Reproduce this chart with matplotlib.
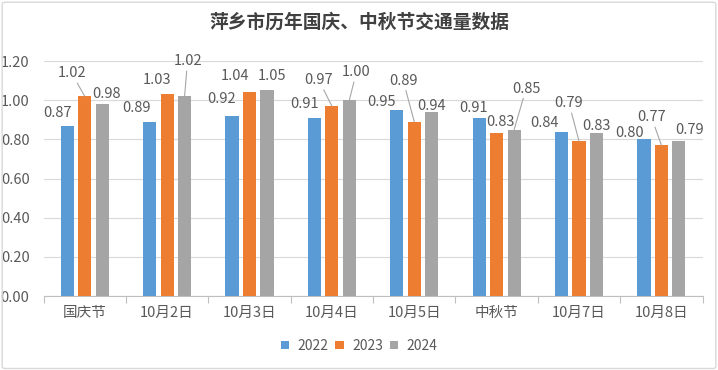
import matplotlib
matplotlib.use("Agg")
import matplotlib.pyplot as plt
import numpy as np
from matplotlib.patches import FancyBboxPatch

plt.rcParams['font.family'] = ['Noto Sans CJK SC', 'DejaVu Sans']

categories = ["国庆节", "10月2日", "10月3日", "10月4日", "10月5日", "中秋节", "10月7日", "10月8日"]
years = ["2022", "2023", "2024"]
v2022 = [0.87, 0.89, 0.92, 0.91, 0.95, 0.91, 0.84, 0.80]
v2023 = [1.02, 1.03, 1.04, 0.97, 0.89, 0.83, 0.79, 0.77]
v2024 = [0.98, 1.02, 1.05, 1.00, 0.94, 0.85, 0.83, 0.79]
yticks = [0.0, 0.2, 0.4, 0.6, 0.8, 1.0, 1.2]

colors = ["#5B9BD5", "#ED7D31", "#A5A5A5"]
txt = "#595959"

# label placement styling (pixel offsets from bar top, leader flag)
offsets = [
    [(-10, 13), (-13, 23), (4, 10)],
    [(-13, 14), (-10, 14), (3, 35)],
    [(-10, 17), (-14, 16), (5, 14)],
    [(-10, 14), (-13, 26), (7, 28)],
    [(-15, 8), (-11, 41), (0, 6)],
    [(-6, 10), (4, 11), (12, 41)],
    [(-17, 9), (-10, 38), (0, 7)],
    [(-14, 6), (-10, 28), (11, 11)],
]
leaders = [
    [False, True, False],
    [False, False, True],
    [False, False, False],
    [False, True, True],
    [False, True, False],
    [False, False, True],
    [False, True, False],
    [False, True, False],
]

fig = plt.figure(figsize=(7.18, 3.70), dpi=100)
fig.patches.append(FancyBboxPatch((0.003, 0.004), 0.994, 0.99, boxstyle="round,pad=0,rounding_size=0.005",
                                  transform=fig.transFigure, fill=False, ec="#D9D9D9", lw=1))
ax = fig.add_axes([0.0606, 0.2, 0.918, 0.635])

x = np.arange(len(categories))
w = 0.16
sp = 0.212
series = [v2022, v2023, v2024]
for k, vals in enumerate(series):
    xs = x + (k - 1) * sp
    ax.bar(xs, vals, width=w, color=colors[k], label=years[k], zorder=3)
    for i, v in enumerate(vals):
        dx, dy = offsets[i][k]
        kw = {}
        if leaders[i][k]:
            kw['arrowprops'] = dict(arrowstyle='-', color='#A6A6A6', lw=0.8, shrinkA=0, shrinkB=0)
        ax.annotate(f"{v:.2f}", xy=(xs[i], v), xytext=(dx, dy), textcoords='offset pixels',
                    ha='center', va='center', fontsize=10.5, color=txt, zorder=4, **kw)

ax.set_xlim(-0.5, len(categories) - 0.5)
ax.set_ylim(0, 1.2)
ax.set_yticks(yticks)
ax.set_yticklabels([f"{t:.2f}" for t in yticks], color=txt, fontsize=10.5)
ax.grid(axis='y', color='#D9D9D9', lw=0.8, zorder=0)
ax.set_axisbelow(True)
for s in ['top', 'right', 'left']:
    ax.spines[s].set_visible(False)
ax.spines['bottom'].set_color('#BFBFBF')
ax.spines['bottom'].set_linewidth(0.8)
ax.set_xticks(x)
ax.set_xticklabels(categories, color=txt, fontsize=10.5)
ax.set_xticks(np.arange(-0.5, len(categories)), minor=True)
ax.tick_params(axis='x', which='major', length=0, pad=7)
ax.tick_params(axis='x', which='minor', length=5, color='#BFBFBF', width=0.8)
ax.tick_params(axis='y', length=0, pad=10)

fig.text(0.5, 0.94, "萍乡市历年国庆、中秋节交通量数据", ha='center', va='center',
         fontsize=13.5, fontweight='bold', color="#404040")

fig.legend(loc='center', bbox_to_anchor=(0.5, 0.065), ncol=3, frameon=False, fontsize=10,
           handlelength=0.6, handleheight=0.6, handletextpad=0.6, columnspacing=0.5,
           labelcolor=txt)

fig.savefig("out.png", dpi=100)
